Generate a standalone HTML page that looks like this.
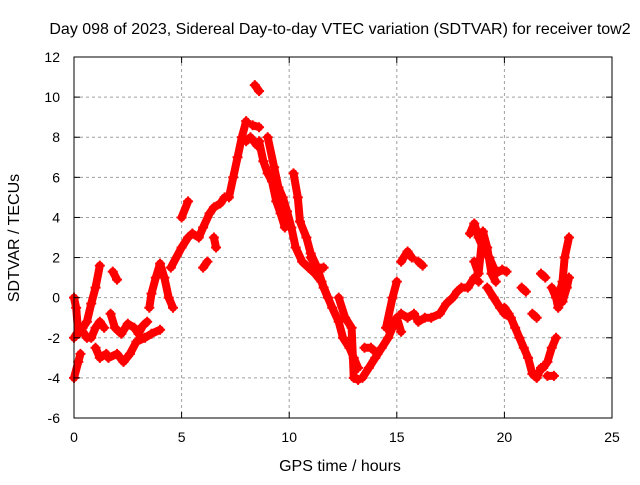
<!DOCTYPE html>
<html><head><meta charset="utf-8"><style>
body{margin:0;background:#fff;}
svg text{font-family:"Liberation Sans",sans-serif;font-size:14px;fill:#000;}
svg text.ttl{font-size:16px;}
</style></head><body>
<svg id="chart" width="640" height="480" viewBox="0 0 640 480" xmlns="http://www.w3.org/2000/svg">
<text class="ttl" x="340" y="34" text-anchor="middle">Day 098 of 2023, Sidereal Day-to-day VTEC variation (SDTVAR) for receiver tow2</text>
<text class="ttl" x="340" y="471" text-anchor="middle">GPS time / hours</text>
<text class="ttl" transform="translate(19,238) rotate(-90)" text-anchor="middle">SDTVAR / TECUs</text>
<g id="grid"></g>
<g id="marks"></g>
<rect x="74" y="57" width="538" height="361" fill="none" stroke="#000" stroke-width="1"/>
<g id="ticks"></g>
</svg>
<script>
const xTicks=[0,5,10,15,20,25];
const yTicks=[-6,-4,-2,0,2,4,6,8,10,12];
const tracks=[
[[0,-4],[0.2,-3.2],[0.3,-2.8]],
[[0,0],[0.1,-0.5],[0.2,-1.8],[0.4,-1.5],[0.6,-1.2],[0.8,-0.3],[1.0,0.5],[1.2,1.6]],
[[0,-2],[0.3,-1.5],[0.6,-2.0],[0.8,-2.0],[1.0,-1.5],[1.2,-1.2],[1.4,-1.5]],
[[1.0,-2.5],[1.2,-3.0],[1.5,-2.8]],
[[1.8,1.3],[2.0,0.9]],
[[1.7,-0.8],[1.9,-1.5],[2.2,-1.8],[2.5,-1.3],[2.8,-1.5],[3.0,-1.8],[3.2,-1.4],[3.4,-1.2]],
[[1.6,-3.0],[2.0,-2.8],[2.3,-3.2],[2.6,-2.8],[2.9,-2.2],[3.3,-2.0],[3.6,-1.8],[4.0,-1.6]],
[[3.5,-0.5],[3.6,0.2],[3.8,1.0],[4.0,1.7],[4.2,1.0],[4.4,0],[4.6,-0.5]],
[[4.5,1.5],[5.0,2.5],[5.3,3.0],[5.5,3.2],[5.8,3.0],[6.0,3.5],[6.3,4.2],[6.5,4.5],[6.8,4.7],[7.0,5.0]],
[[5.0,4.0],[5.3,4.8]],
[[6.0,1.5],[6.2,1.8]],
[[6.5,3.0],[6.6,2.5]],
[[7.2,5.0],[7.4,6.0],[7.6,7.0],[7.8,8.0],[8.0,8.8]],
[[8.4,10.6],[8.6,10.3]],
[[8.0,7.8],[8.2,8.0],[8.5,7.6]],
[[8.3,8.6],[8.6,8.5]],
[[8.6,7.8],[8.8,6.8],[9.0,6.2],[9.2,5.8],[9.4,4.8],[9.6,4.2],[9.8,3.5]],
[[9.0,8.0],[9.3,6.5],[9.5,5.5],[9.7,5.0],[9.9,4.3],[10.1,3.5],[10.3,2.5],[10.6,1.8],[10.9,1.5],[11.2,1.2],[11.5,0.8],[11.8,0]],
[[10.2,6.2],[10.4,5.0],[10.5,3.8],[10.8,3.0],[11.0,2.2],[11.3,1.5],[11.6,0.5],[12.0,-0.5],[12.3,-1.2],[12.5,-2.0],[12.8,-2.5],[13.0,-3.0],[13.2,-3.5]],
[[11.0,2.0],[11.3,1.5],[11.6,1.5]],
[[12.3,0],[12.6,-1.0],[12.9,-1.5],[13.0,-4.0],[13.2,-4.1]],
[[13.4,-4.0],[13.7,-3.5],[14.0,-3.0],[14.3,-2.5],[14.6,-2.0],[14.8,-1.5],[15.0,-1.0]],
[[13.5,-2.5],[13.8,-2.5],[14.1,-2.8]],
[[14.5,-1.5],[14.8,0],[15.0,0.8]],
[[15.0,-1.0],[15.2,-1.7]],
[[15.2,1.8],[15.5,2.3],[15.7,2.0]],
[[16.0,1.8],[16.2,1.6]],
[[15.2,-0.8],[15.5,-1.0],[15.8,-0.8],[16.0,-1.2],[16.3,-1.0],[16.6,-1.0],[17.0,-0.8],[17.3,-0.3],[17.6,0],[17.8,0.3],[18.0,0.5],[18.3,0.5],[18.6,1.0],[18.8,0.8]],
[[18.4,3.2],[18.6,3.7],[18.8,3.0],[19.0,2.5],[19.3,2.0],[19.5,1.5]],
[[18.6,1.8],[18.8,1.2],[19.0,3.3],[19.2,2.5],[19.4,1.2],[19.6,0.8]],
[[19.2,0.5],[19.5,0.0],[19.8,-0.5],[20.0,-0.8],[20.3,-1.0],[20.5,-1.5],[20.7,-2.0],[20.9,-2.5],[21.1,-3.0],[21.3,-3.8],[21.5,-4.0],[21.7,-3.5]],
[[19.6,1.2],[19.9,1.4],[20.1,1.3]],
[[20.0,-0.5],[20.2,-0.8]],
[[20.8,0.5],[21.0,0.3]],
[[21.3,-0.8],[21.5,-1.0]],
[[21.7,1.2],[21.9,1.0]],
[[21.8,-3.5],[22.0,-3.2],[22.2,-2.5],[22.4,-2.0]],
[[22.0,-3.9],[22.3,-3.9]],
[[22.2,0.5],[22.4,0.0],[22.5,-0.5]],
[[22.5,0],[22.7,0.8],[22.8,2.0],[23.0,3.0]],
[[22.7,-0.2],[22.9,0.5],[23.0,1.0]]
];
const X0=74,X1=612,Y0=418,Y1=57;
const xs=t=>X0+(t-0)/(25-0)*(X1-X0);
const ys=v=>Y0-(v+6)/(12+6)*(Y0-Y1);
const NS="http://www.w3.org/2000/svg";
const grid=document.getElementById('grid'),ticks=document.getElementById('ticks'),marks=document.getElementById('marks');
function mk(tag,attrs,parent){const e=document.createElementNS(NS,tag);for(const k in attrs)e.setAttribute(k,attrs[k]);parent.appendChild(e);return e;}
xTicks.forEach(t=>{const x=xs(t);
 if(t>0&&t<25){const g=mk('line',{x1:x,x2:x,y1:Y1,y2:Y0,stroke:'#a0a0a0','stroke-dasharray':'3,3'},grid);
 
 }
 mk('line',{x1:x,x2:x,y1:Y0,y2:Y0-6,stroke:'#000'},ticks);mk('line',{x1:x,x2:x,y1:Y1,y2:Y1+6,stroke:'#000'},ticks);
 const l=mk('text',{x:x,y:Y0+24,'text-anchor':'middle'},ticks);l.textContent=t;
 
 });
yTicks.forEach(v=>{const y=ys(v);
 if(v>-6&&v<12){const g=mk('line',{x1:X0,x2:X1,y1:y,y2:y,stroke:'#a0a0a0','stroke-dasharray':'3,3'},grid);
 
 }
 mk('line',{x1:X0,x2:X0+6,y1:y,y2:y,stroke:'#000'},ticks);mk('line',{x1:X1,x2:X1-6,y1:y,y2:y,stroke:'#000'},ticks);
 const l=mk('text',{x:X0-14,y:y+5,'text-anchor':'end'},ticks);l.textContent=v;
 
 });
tracks.forEach(tr=>{
 const p=mk('polyline',{points:tr.map(d=>xs(d[0])+','+ys(d[1])).join(' '),fill:'none',stroke:'#f00','stroke-width':8,'stroke-linejoin':'round','stroke-linecap':'round'},marks);
 
 
 tr.forEach(d=>{const x=xs(d[0]),y=ys(d[1]);
  const m=mk('path',{d:`M${x-5},${y}H${x+5}M${x},${y-5}V${y+5}`,stroke:'#f00','stroke-width':2},marks);
  
  });
});
</script>
</body></html>
